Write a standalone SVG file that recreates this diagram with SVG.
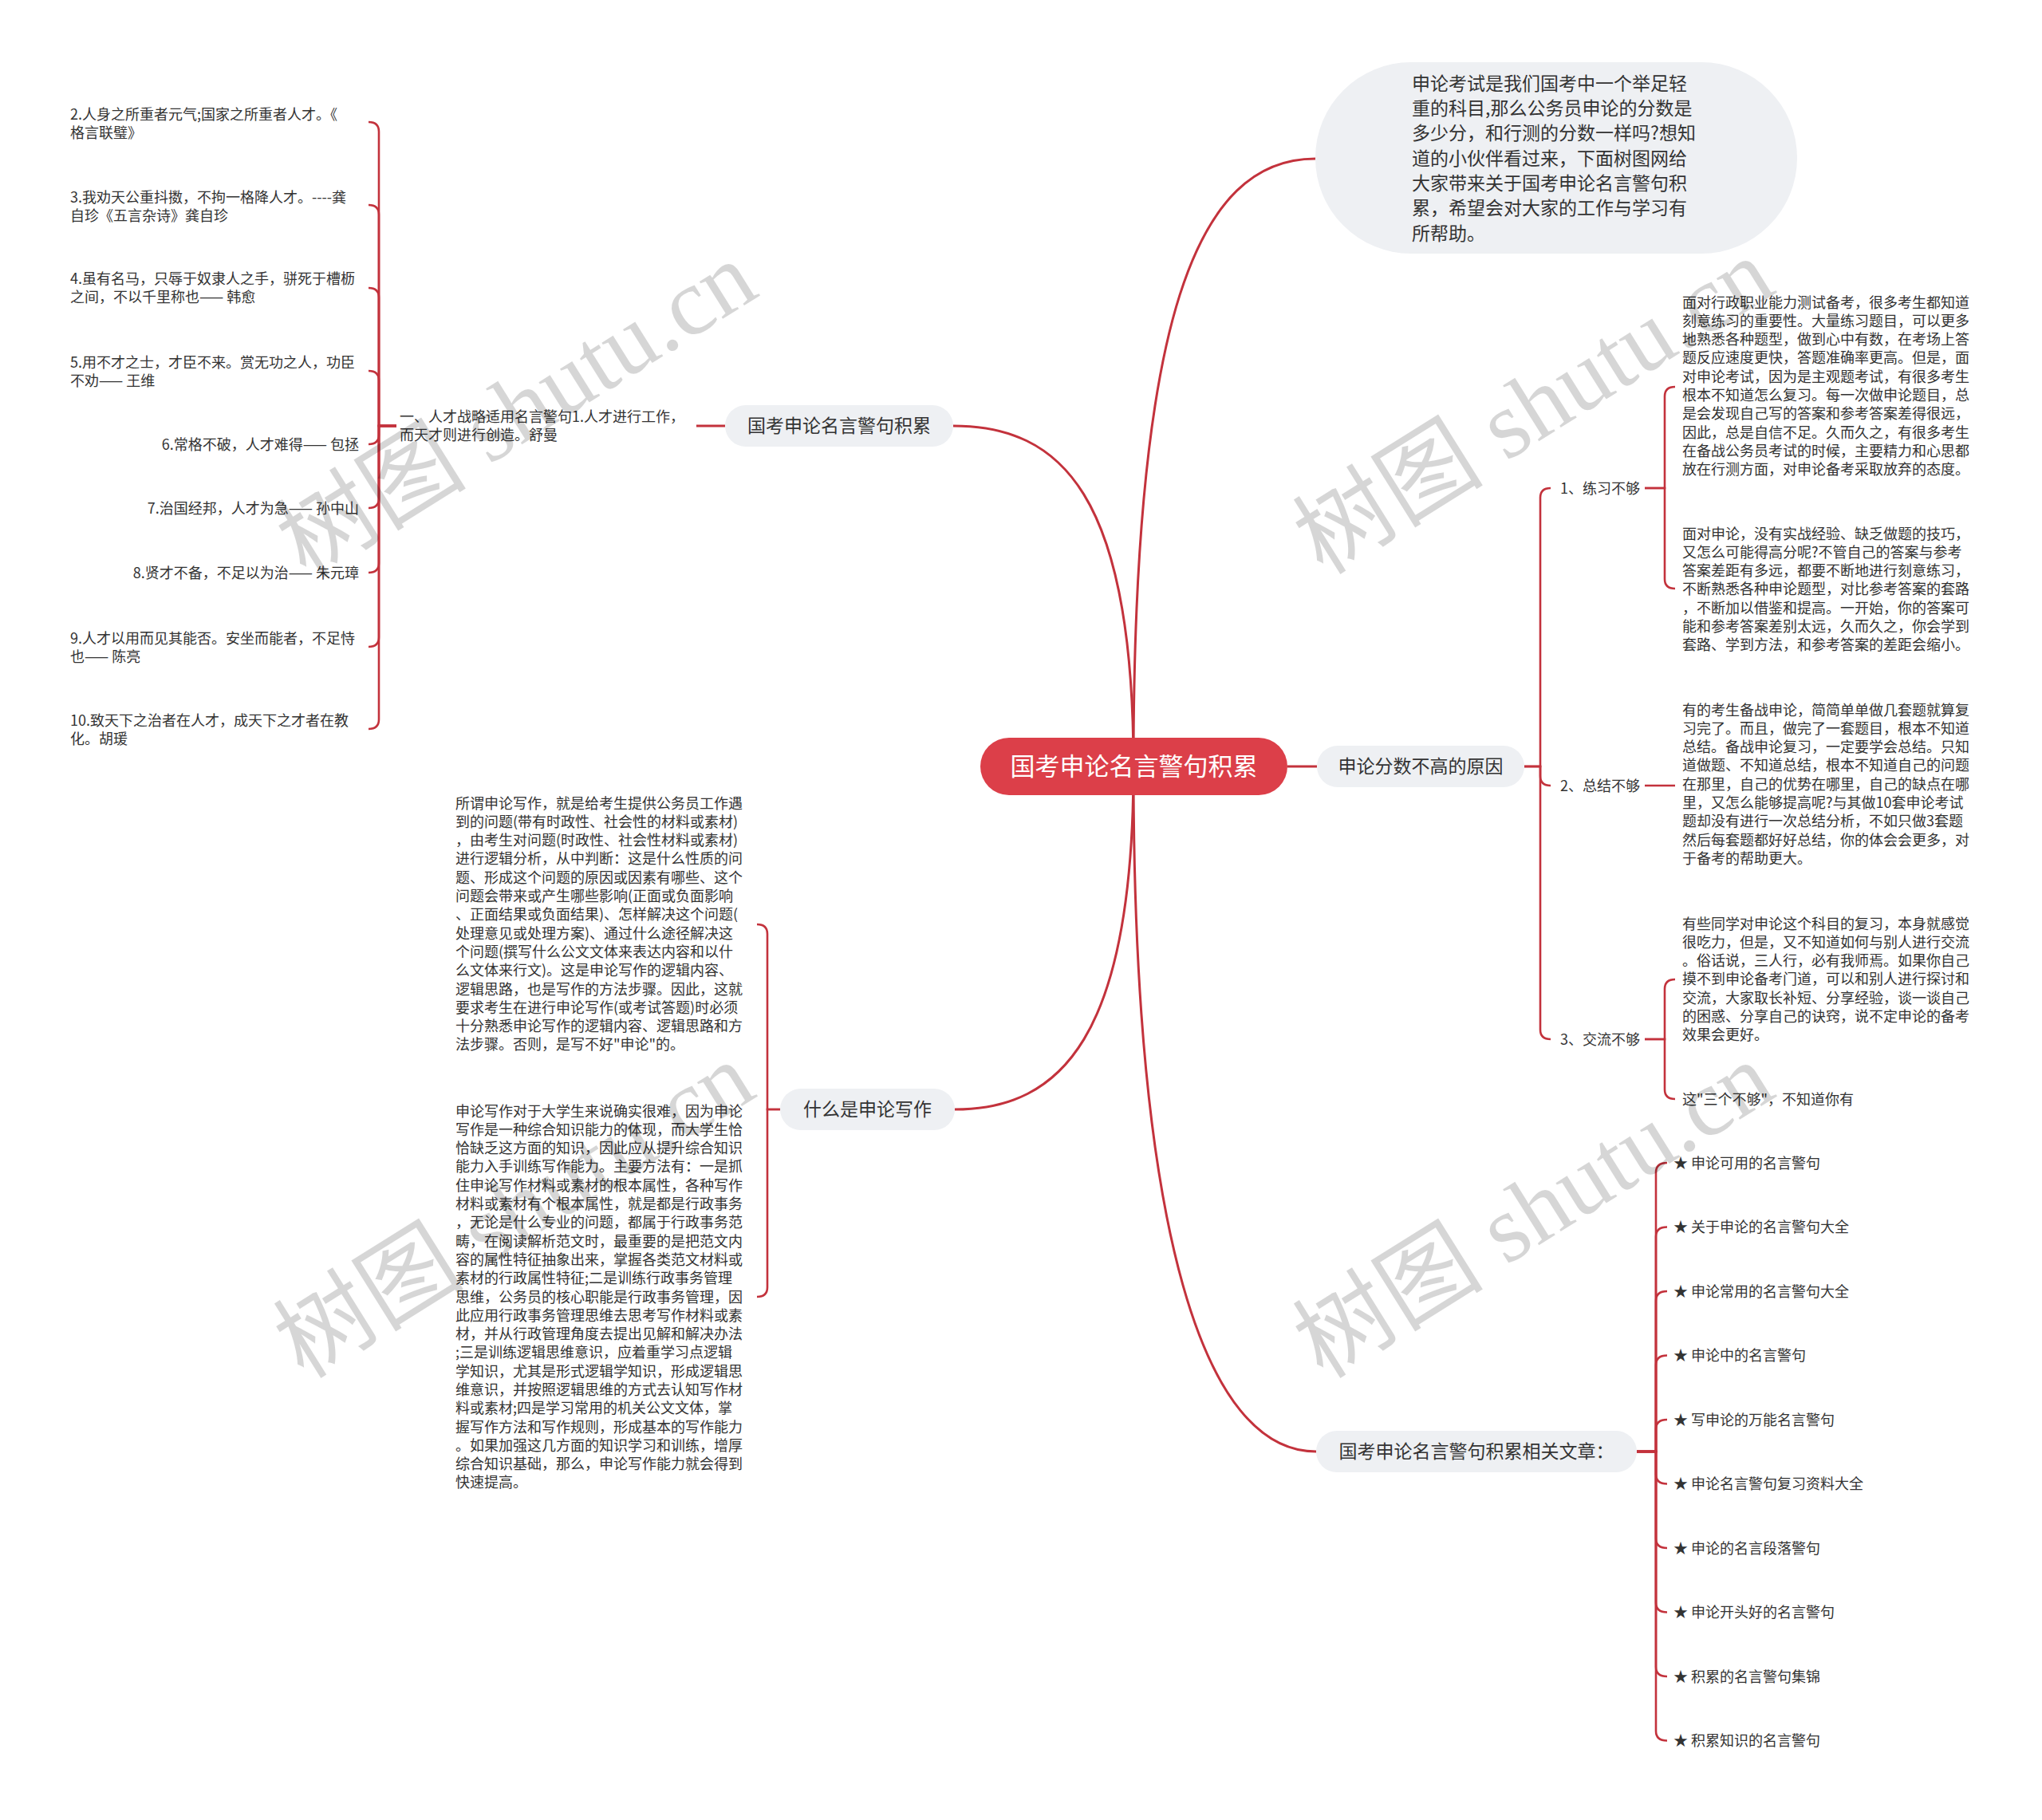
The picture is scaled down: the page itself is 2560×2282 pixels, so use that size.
<svg xmlns="http://www.w3.org/2000/svg" width="2560" height="2282" viewBox="0 0 2560 2282">
<style>
text{font-family:"Noto Sans CJK SC","Liberation Sans",sans-serif;fill:#333}
.s{font-size:18px}
.m{font-size:23px}
.pill{fill:#eef0f3}
.ln{fill:none;stroke:#c3323c;stroke-width:3}
.bk{fill:none;stroke:#c3323c;stroke-width:2.6}
.wm{font-family:"Liberation Serif","Noto Sans CJK SC",serif;font-size:120px;fill:#000;fill-opacity:0.16}
</style>
<rect width="2560" height="2282" fill="#fff"/>
<g id="connectors">
<path class="ln" d="M1421 961 C1421 620 1330 534 1195 534"/>
<path class="ln" d="M1421 961 C1421 400 1500 199 1649 199"/>
<path class="ln" d="M1421 961 C1421 1300 1330 1391 1197 1391"/>
<path class="ln" d="M1421 961 C1421 1550 1510 1820 1650 1820"/>
<path class="ln" d="M1614 961 H1651"/>
<path class="ln" d="M909 534 H873"/>
<path class="bk" d="M497 534 H475 V165 Q475 153 462 153"/>
<path class="bk" d="M497 534 H475 V269 Q475 257 462 257"/>
<path class="bk" d="M497 534 H475 V373 Q475 361 462 361"/>
<path class="bk" d="M497 534 H475 V477 Q475 465 462 465"/>
<path class="bk" d="M497 534 H475 V545 Q475 557 462 557"/>
<path class="bk" d="M497 534 H475 V625 Q475 637 462 637"/>
<path class="bk" d="M497 534 H475 V706 Q475 718 462 718"/>
<path class="bk" d="M497 534 H475 V799 Q475 811 462 811"/>
<path class="bk" d="M497 534 H475 V902 Q475 914 462 914"/>
<path class="bk" d="M1911 961 H1931 V624 Q1931 612 1944 612"/>
<path class="bk" d="M1911 961 H1931 V973 Q1931 985 1944 985"/>
<path class="bk" d="M1911 961 H1931 V1291 Q1931 1303 1944 1303"/>
<path class="bk" d="M2062 612 H2087 V497 Q2087 485 2100 485"/>
<path class="bk" d="M2062 612 H2087 V726 Q2087 738 2100 738"/>
<path class="bk" d="M2062 985 H2100"/>
<path class="bk" d="M2062 1303 H2087 V1240 Q2087 1228 2100 1228"/>
<path class="bk" d="M2062 1303 H2087 V1366 Q2087 1378 2100 1378"/>
<path class="bk" d="M978 1391 H962 V1171 Q962 1159 949 1159"/>
<path class="bk" d="M978 1391 H962 V1614 Q962 1626 949 1626"/>
<path class="bk" d="M2052 1820 H2076 V1470 Q2076 1458 2090 1458"/>
<path class="bk" d="M2052 1820 H2076 V1550.5 Q2076 1538.5 2090 1538.5"/>
<path class="bk" d="M2052 1820 H2076 V1631 Q2076 1619 2090 1619"/>
<path class="bk" d="M2052 1820 H2076 V1711.5 Q2076 1699.5 2090 1699.5"/>
<path class="bk" d="M2052 1820 H2076 V1792 Q2076 1780 2090 1780"/>
<path class="bk" d="M2052 1820 H2076 V1848.5 Q2076 1860.5 2090 1860.5"/>
<path class="bk" d="M2052 1820 H2076 V1929 Q2076 1941 2090 1941"/>
<path class="bk" d="M2052 1820 H2076 V2009.5 Q2076 2021.5 2090 2021.5"/>
<path class="bk" d="M2052 1820 H2076 V2090 Q2076 2102 2090 2102"/>
<path class="bk" d="M2052 1820 H2076 V2170.5 Q2076 2182.5 2090 2182.5"/>
</g>
<g id="root">
<rect x="1229" y="925" width="385" height="72" rx="36" fill="#dc3f49"/>
<text x="1421.5" y="972" text-anchor="middle" style="font-size:31px;fill:#fff">国考申论名言警句积累</text>
</g>
<g id="intro">
<rect class="pill" x="1649" y="78" width="604" height="240" rx="120"/>
<text class="m" x="1770" y="112.8"><tspan x="1770">申论考试是我们国考中一个举足轻</tspan><tspan x="1770" dy="31.3">重的科目,那么公务员申论的分数是</tspan><tspan x="1770" dy="31.3">多少分，和行测的分数一样吗?想知</tspan><tspan x="1770" dy="31.3">道的小伙伴看过来，下面树图网给</tspan><tspan x="1770" dy="31.3">大家带来关于国考申论名言警句积</tspan><tspan x="1770" dy="31.3">累，希望会对大家的工作与学习有</tspan><tspan x="1770" dy="31.3">所帮助。</tspan></text>
</g>
<g id="b1">
<rect class="pill" x="909" y="508" width="286" height="52" rx="26"/>
<text class="m" x="1052" y="542.3" text-anchor="middle">国考申论名言警句积累</text>
</g>
<g id="b1-parent">
<text class="s" x="501" y="528.5"><tspan x="501">一、人才战略适用名言警句1.人才进行工作，</tspan><tspan x="501" dy="23">而天才则进行创造。舒曼</tspan></text>
</g>
<g id="q2"><text class="s" x="88" y="149.5"><tspan x="88">2.人身之所重者元气;国家之所重者人才。《</tspan><tspan x="88" dy="23">格言联璧》</tspan></text></g>
<g id="q3"><text class="s" x="88" y="253.5"><tspan x="88">3.我劝天公重抖擞，不拘一格降人才。----龚</tspan><tspan x="88" dy="23">自珍《五言杂诗》龚自珍</tspan></text></g>
<g id="q4"><text class="s" x="88" y="355.5"><tspan x="88">4.虽有名马，只辱于奴隶人之手，骈死于槽枥</tspan><tspan x="88" dy="23">之间，不以千里称也—— 韩愈</tspan></text></g>
<g id="q5"><text class="s" x="88" y="460.5"><tspan x="88">5.用不才之士，才臣不来。赏无功之人，功臣</tspan><tspan x="88" dy="23">不劝—— 王维</tspan></text></g>
<g id="q6"><text class="s" x="450" y="563.5" text-anchor="end">6.常格不破，人才难得—— 包拯</text></g>
<g id="q7"><text class="s" x="450" y="643.5" text-anchor="end">7.治国经邦，人才为急—— 孙中山</text></g>
<g id="q8"><text class="s" x="450" y="724.5" text-anchor="end">8.贤才不备，不足以为治—— 朱元璋</text></g>
<g id="q9"><text class="s" x="88" y="806.5"><tspan x="88">9.人才以用而见其能否。安坐而能者，不足恃</tspan><tspan x="88" dy="23">也—— 陈亮</tspan></text></g>
<g id="q10"><text class="s" x="88" y="909.5"><tspan x="88">10.致天下之治者在人才，成天下之才者在教</tspan><tspan x="88" dy="23">化。胡瑗</tspan></text></g>
<g id="b2">
<rect class="pill" x="1651" y="935" width="260" height="52" rx="26"/>
<text class="m" x="1781" y="969.3" text-anchor="middle">申论分数不高的原因</text>
</g>
<g id="r1"><text class="s" x="1956" y="618.5">1、练习不够</text></g>
<g id="r2"><text class="s" x="1956" y="991.5">2、总结不够</text></g>
<g id="r3"><text class="s" x="1956" y="1309.5">3、交流不够</text></g>
<g id="r1a"><text class="s" x="2109" y="385.5"><tspan x="2109">面对行政职业能力测试备考，很多考生都知道</tspan><tspan x="2109" dy="23.3">刻意练习的重要性。大量练习题目，可以更多</tspan><tspan x="2109" dy="23.3">地熟悉各种题型，做到心中有数，在考场上答</tspan><tspan x="2109" dy="23.3">题反应速度更快，答题准确率更高。但是，面</tspan><tspan x="2109" dy="23.3">对申论考试，因为是主观题考试，有很多考生</tspan><tspan x="2109" dy="23.3">根本不知道怎么复习。每一次做申论题目，总</tspan><tspan x="2109" dy="23.3">是会发现自己写的答案和参考答案差得很远，</tspan><tspan x="2109" dy="23.3">因此，总是自信不足。久而久之，有很多考生</tspan><tspan x="2109" dy="23.3">在备战公务员考试的时候，主要精力和心思都</tspan><tspan x="2109" dy="23.3">放在行测方面，对申论备考采取放弃的态度。</tspan></text></g>
<g id="r1b"><text class="s" x="2109" y="675.5"><tspan x="2109">面对申论，没有实战经验、缺乏做题的技巧，</tspan><tspan x="2109" dy="23.3">又怎么可能得高分呢?不管自己的答案与参考</tspan><tspan x="2109" dy="23.3">答案差距有多远，都要不断地进行刻意练习，</tspan><tspan x="2109" dy="23.3">不断熟悉各种申论题型，对比参考答案的套路</tspan><tspan x="2109" dy="23.3">，不断加以借鉴和提高。一开始，你的答案可</tspan><tspan x="2109" dy="23.3">能和参考答案差别太远，久而久之，你会学到</tspan><tspan x="2109" dy="23.3">套路、学到方法，和参考答案的差距会缩小。</tspan></text></g>
<g id="r2a"><text class="s" x="2109" y="896.5"><tspan x="2109">有的考生备战申论，简简单单做几套题就算复</tspan><tspan x="2109" dy="23.3">习完了。而且，做完了一套题目，根本不知道</tspan><tspan x="2109" dy="23.3">总结。备战申论复习，一定要学会总结。只知</tspan><tspan x="2109" dy="23.3">道做题、不知道总结，根本不知道自己的问题</tspan><tspan x="2109" dy="23.3">在那里，自己的优势在哪里，自己的缺点在哪</tspan><tspan x="2109" dy="23.3">里，又怎么能够提高呢?与其做10套申论考试</tspan><tspan x="2109" dy="23.3">题却没有进行一次总结分析，不如只做3套题</tspan><tspan x="2109" dy="23.3">然后每套题都好好总结，你的体会会更多，对</tspan><tspan x="2109" dy="23.3">于备考的帮助更大。</tspan></text></g>
<g id="r3a"><text class="s" x="2109" y="1164.5"><tspan x="2109">有些同学对申论这个科目的复习，本身就感觉</tspan><tspan x="2109" dy="23.3">很吃力，但是，又不知道如何与别人进行交流</tspan><tspan x="2109" dy="23.3">。俗话说，三人行，必有我师焉。如果你自己</tspan><tspan x="2109" dy="23.3">摸不到申论备考门道，可以和别人进行探讨和</tspan><tspan x="2109" dy="23.3">交流，大家取长补短、分享经验，谈一谈自己</tspan><tspan x="2109" dy="23.3">的困惑、分享自己的诀窍，说不定申论的备考</tspan><tspan x="2109" dy="23.3">效果会更好。</tspan></text></g>
<g id="r3b"><text class="s" x="2109" y="1384.5">这"三个不够"，不知道你有</text></g>
<g id="b3">
<rect class="pill" x="978" y="1365" width="219" height="52" rx="26"/>
<text class="m" x="1087.5" y="1399.3" text-anchor="middle">什么是申论写作</text>
</g>
<g id="w1"><text class="s" x="571" y="1013.5"><tspan x="571">所谓申论写作，就是给考生提供公务员工作遇</tspan><tspan x="571" dy="23.3">到的问题(带有时政性、社会性的材料或素材)</tspan><tspan x="571" dy="23.3">，由考生对问题(时政性、社会性材料或素材)</tspan><tspan x="571" dy="23.3">进行逻辑分析，从中判断：这是什么性质的问</tspan><tspan x="571" dy="23.3">题、形成这个问题的原因或因素有哪些、这个</tspan><tspan x="571" dy="23.3">问题会带来或产生哪些影响(正面或负面影响</tspan><tspan x="571" dy="23.3">、正面结果或负面结果)、怎样解决这个问题(</tspan><tspan x="571" dy="23.3">处理意见或处理方案)、通过什么途径解决这</tspan><tspan x="571" dy="23.3">个问题(撰写什么公文文体来表达内容和以什</tspan><tspan x="571" dy="23.3">么文体来行文)。这是申论写作的逻辑内容、</tspan><tspan x="571" dy="23.3">逻辑思路，也是写作的方法步骤。因此，这就</tspan><tspan x="571" dy="23.3">要求考生在进行申论写作(或考试答题)时必须</tspan><tspan x="571" dy="23.3">十分熟悉申论写作的逻辑内容、逻辑思路和方</tspan><tspan x="571" dy="23.3">法步骤。否则，是写不好"申论"的。</tspan></text></g>
<g id="w2"><text class="s" x="571" y="1399.5"><tspan x="571">申论写作对于大学生来说确实很难，因为申论</tspan><tspan x="571" dy="23.3">写作是一种综合知识能力的体现，而大学生恰</tspan><tspan x="571" dy="23.3">恰缺乏这方面的知识，因此应从提升综合知识</tspan><tspan x="571" dy="23.3">能力入手训练写作能力。主要方法有：一是抓</tspan><tspan x="571" dy="23.3">住申论写作材料或素材的根本属性，各种写作</tspan><tspan x="571" dy="23.3">材料或素材有个根本属性，就是都是行政事务</tspan><tspan x="571" dy="23.3">，无论是什么专业的问题，都属于行政事务范</tspan><tspan x="571" dy="23.3">畴，在阅读解析范文时，最重要的是把范文内</tspan><tspan x="571" dy="23.3">容的属性特征抽象出来，掌握各类范文材料或</tspan><tspan x="571" dy="23.3">素材的行政属性特征;二是训练行政事务管理</tspan><tspan x="571" dy="23.3">思维，公务员的核心职能是行政事务管理，因</tspan><tspan x="571" dy="23.3">此应用行政事务管理思维去思考写作材料或素</tspan><tspan x="571" dy="23.3">材，并从行政管理角度去提出见解和解决办法</tspan><tspan x="571" dy="23.3">;三是训练逻辑思维意识，应着重学习点逻辑</tspan><tspan x="571" dy="23.3">学知识，尤其是形式逻辑学知识，形成逻辑思</tspan><tspan x="571" dy="23.3">维意识，并按照逻辑思维的方式去认知写作材</tspan><tspan x="571" dy="23.3">料或素材;四是学习常用的机关公文文体，掌</tspan><tspan x="571" dy="23.3">握写作方法和写作规则，形成基本的写作能力</tspan><tspan x="571" dy="23.3">。如果加强这几方面的知识学习和训练，增厚</tspan><tspan x="571" dy="23.3">综合知识基础，那么，申论写作能力就会得到</tspan><tspan x="571" dy="23.3">快速提高。</tspan></text></g>
<g id="b4">
<rect class="pill" x="1650" y="1794" width="402" height="52" rx="26"/>
<text class="m" x="1851" y="1828.3" text-anchor="middle">国考申论名言警句积累相关文章：</text>
</g>
<g id="a1"><text class="s" x="2098" y="1464.5">★ 申论可用的名言警句</text></g>
<g id="a2"><text class="s" x="2098" y="1545">★ 关于申论的名言警句大全</text></g>
<g id="a3"><text class="s" x="2098" y="1625.5">★ 申论常用的名言警句大全</text></g>
<g id="a4"><text class="s" x="2098" y="1706">★ 申论中的名言警句</text></g>
<g id="a5"><text class="s" x="2098" y="1786.5">★ 写申论的万能名言警句</text></g>
<g id="a6"><text class="s" x="2098" y="1867">★ 申论名言警句复习资料大全</text></g>
<g id="a7"><text class="s" x="2098" y="1947.5">★ 申论的名言段落警句</text></g>
<g id="a8"><text class="s" x="2098" y="2028">★ 申论开头好的名言警句</text></g>
<g id="a9"><text class="s" x="2098" y="2108.5">★ 积累的名言警句集锦</text></g>
<g id="a10"><text class="s" x="2098" y="2189">★ 积累知识的名言警句</text></g>
<g id="watermarks">
<text class="wm" text-anchor="middle" transform="translate(648 514) rotate(-32)" y="40">树图 shutu.cn</text>
<text class="wm" text-anchor="middle" transform="translate(1923 510) rotate(-32)" y="40">树图 shutu.cn</text>
<text class="wm" text-anchor="middle" transform="translate(645 1518) rotate(-32)" y="40">树图 shutu.cn</text>
<text class="wm" text-anchor="middle" transform="translate(1923 1518) rotate(-32)" y="40">树图 shutu.cn</text>
</g>
</svg>
